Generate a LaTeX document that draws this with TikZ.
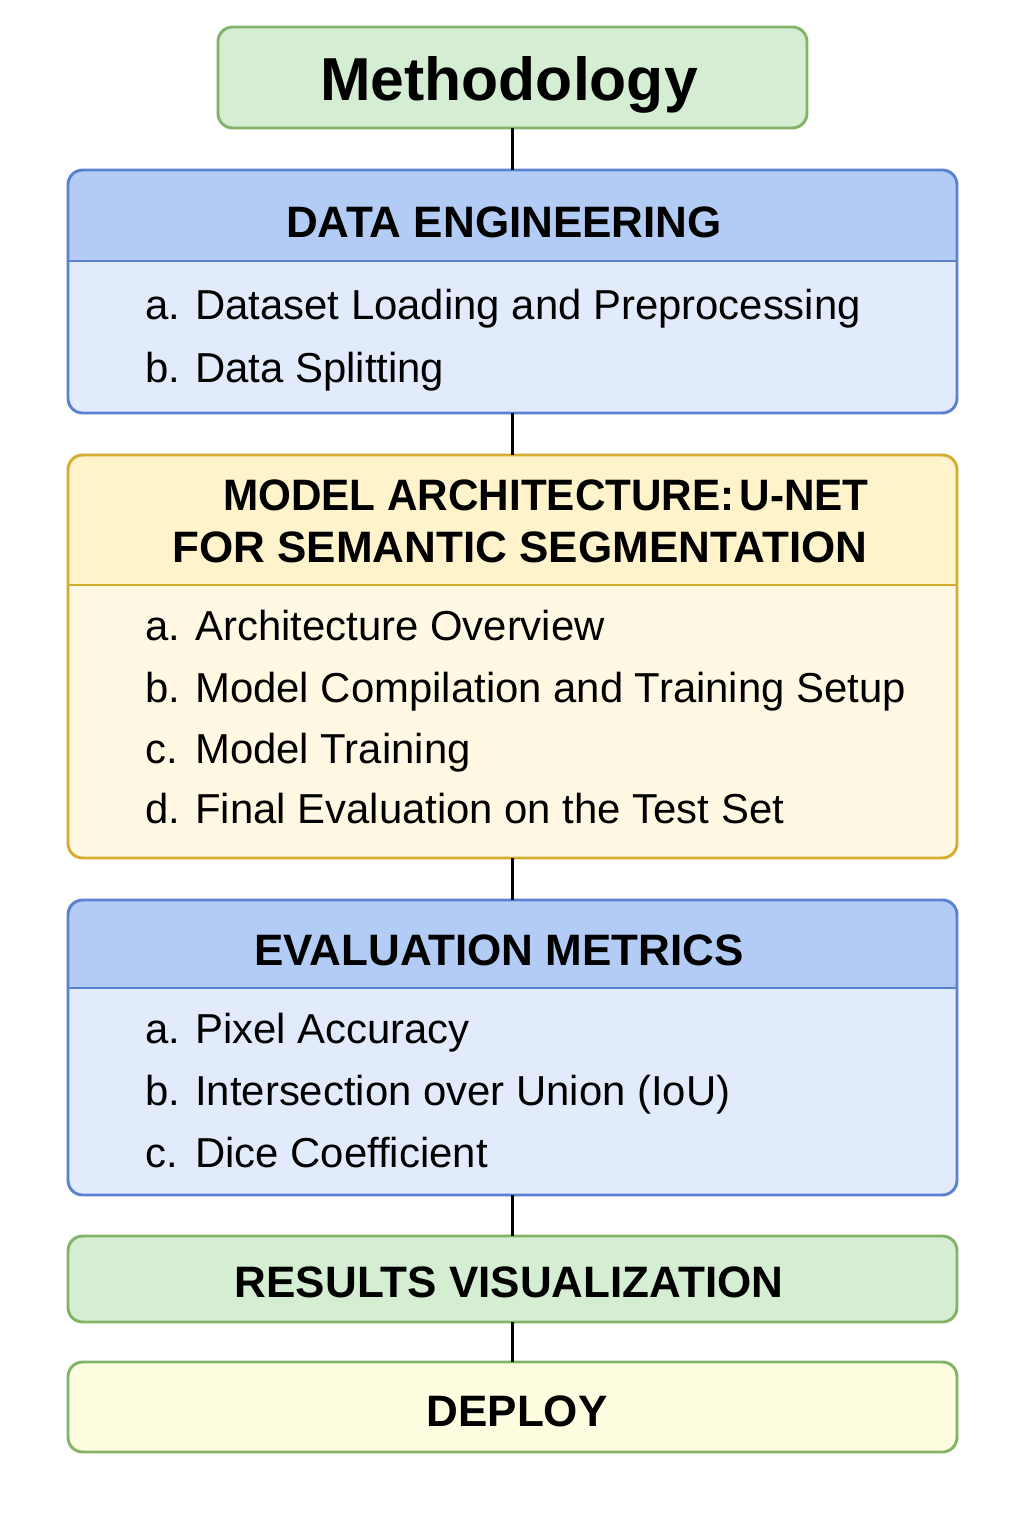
\documentclass[tikz,border=0pt]{standalone}
\usepackage{fontspec}
\setmainfont{Liberation Sans}
\usetikzlibrary{fit}
\definecolor{grFill}{HTML}{D5EDD3}
\definecolor{grLine}{HTML}{82B366}
\definecolor{blHead}{HTML}{B2CCF6}
\definecolor{blBody}{HTML}{E2EBFC}
\definecolor{blLine}{HTML}{5A82D0}
\definecolor{ylHead}{HTML}{FFF3CB}
\definecolor{ylBody}{HTML}{FFF8E3}
\definecolor{ylLine}{HTML}{D4AC2F}
\definecolor{dpFill}{HTML}{FEFDE0}
\tikzset{
  frame/.style={inner sep=0pt, outer sep=0pt},
  outline/.style={line width=2.2pt, rounded corners=11pt},
  hdr/.style={font=\bfseries\fontsize{33}{36}\selectfont, inner sep=0pt, anchor=base},
  itm/.style={font=\fontsize{31.4}{34}\selectfont, inner sep=0pt, anchor=base west},
  link/.style={line width=1.9pt, black},
}
\begin{document}
\begin{tikzpicture}[x=0.75pt,y=-0.75pt]
\useasboundingbox (0,0) rectangle (1024,1536);
\fill[white] (0,0) rectangle (1024,1536);

% Methodology
\node[fit={(218,27)(807,128)}, frame] (meth) {};
\draw[outline, grLine, fill=grFill] (meth.north west) rectangle (meth.south east);
\node[font=\bfseries\fontsize{45.5}{50}\selectfont, inner sep=0pt, anchor=base] (methT) at (509,100) {Methodology};

% Data engineering
\node[fit={(68,170)(957,413)}, frame] (de) {};
\fill[blBody, rounded corners=11pt] (de.north west) rectangle (de.south east);
\begin{scope}
  \clip[rounded corners=11pt] (de.north west) rectangle (de.south east);
  \fill[blHead] (de.north west) rectangle (957,261);
\end{scope}
\draw[blLine, line width=2.2pt] (68,261) -- (957,261);
\draw[outline, blLine] (de.north west) rectangle (de.south east);
\node[hdr] (deH) at (504,237) {DATA ENGINEERING};
\node[itm] (de1l) at (145,319) {a.};
\node[itm] (de1) at (195,319) {Dataset Loading and Preprocessing};
\node[itm] (de2l) at (145,382) {b.};
\node[itm] (de2) at (195,382) {Data Splitting};

% Model architecture
\node[fit={(68,455)(957,858)}, frame] (ma) {};
\fill[ylBody, rounded corners=11pt] (ma.north west) rectangle (ma.south east);
\begin{scope}
  \clip[rounded corners=11pt] (ma.north west) rectangle (ma.south east);
  \fill[ylHead] (ma.north west) rectangle (957,585);
\end{scope}
\draw[ylLine, line width=2.2pt] (68,585) -- (957,585);
\draw[outline, ylLine] (ma.north west) rectangle (ma.south east);
\node[hdr] (maH1) at (546,510) {\scalebox{0.96}[1]{MODEL ARCHITECTURE:\hspace{0.12em}U-NET}};
\node[hdr] (maH2) at (520,562) {FOR SEMANTIC SEGMENTATION};
\node[itm] (ma1l) at (145,640) {a.};
\node[itm] (ma1) at (195,640) {Architecture Overview};
\node[itm] (ma2l) at (145,702) {b.};
\node[itm] (ma2) at (195,702) {Model Compilation and Training Setup};
\node[itm] (ma3l) at (145,763) {c.};
\node[itm] (ma3) at (195,763) {Model Training};
\node[itm] (ma4l) at (145,823) {d.};
\node[itm] (ma4) at (195,823) {Final Evaluation on the Test Set};

% Evaluation metrics
\node[fit={(68,900)(957,1195)}, frame] (em) {};
\fill[blBody, rounded corners=11pt] (em.north west) rectangle (em.south east);
\begin{scope}
  \clip[rounded corners=11pt] (em.north west) rectangle (em.south east);
  \fill[blHead] (em.north west) rectangle (957,988);
\end{scope}
\draw[blLine, line width=2.2pt] (68,988) -- (957,988);
\draw[outline, blLine] (em.north west) rectangle (em.south east);
\node[hdr] (emH) at (499,965) {EVALUATION METRICS};
\node[itm] (em1l) at (145,1043) {a.};
\node[itm] (em1) at (195,1043) {Pixel Accuracy};
\node[itm] (em2l) at (145,1105) {b.};
\node[itm] (em2) at (195,1105) {Intersection over Union (IoU)};
\node[itm] (em3l) at (145,1167) {c.};
\node[itm] (em3) at (195,1167) {Dice Coefficient};

% Results visualization
\node[fit={(68,1236)(957,1322)}, frame] (rv) {};
\draw[outline, grLine, fill=grFill] (rv.north west) rectangle (rv.south east);
\node[hdr] (rvT) at (509,1297) {RESULTS VISUALIZATION};

% Deploy
\node[fit={(68,1362)(957,1452)}, frame] (dp) {};
\draw[outline, grLine, fill=dpFill] (dp.north west) rectangle (dp.south east);
\node[hdr] (dpT) at (517,1426) {DEPLOY};

% connectors
\draw[link] (meth.south) -- (de.north);
\draw[link] (de.south) -- (ma.north);
\draw[link] (ma.south) -- (em.north);
\draw[link] (em.south) -- (rv.north);
\draw[link] (rv.south) -- (dp.north);
\end{tikzpicture}
\end{document}
